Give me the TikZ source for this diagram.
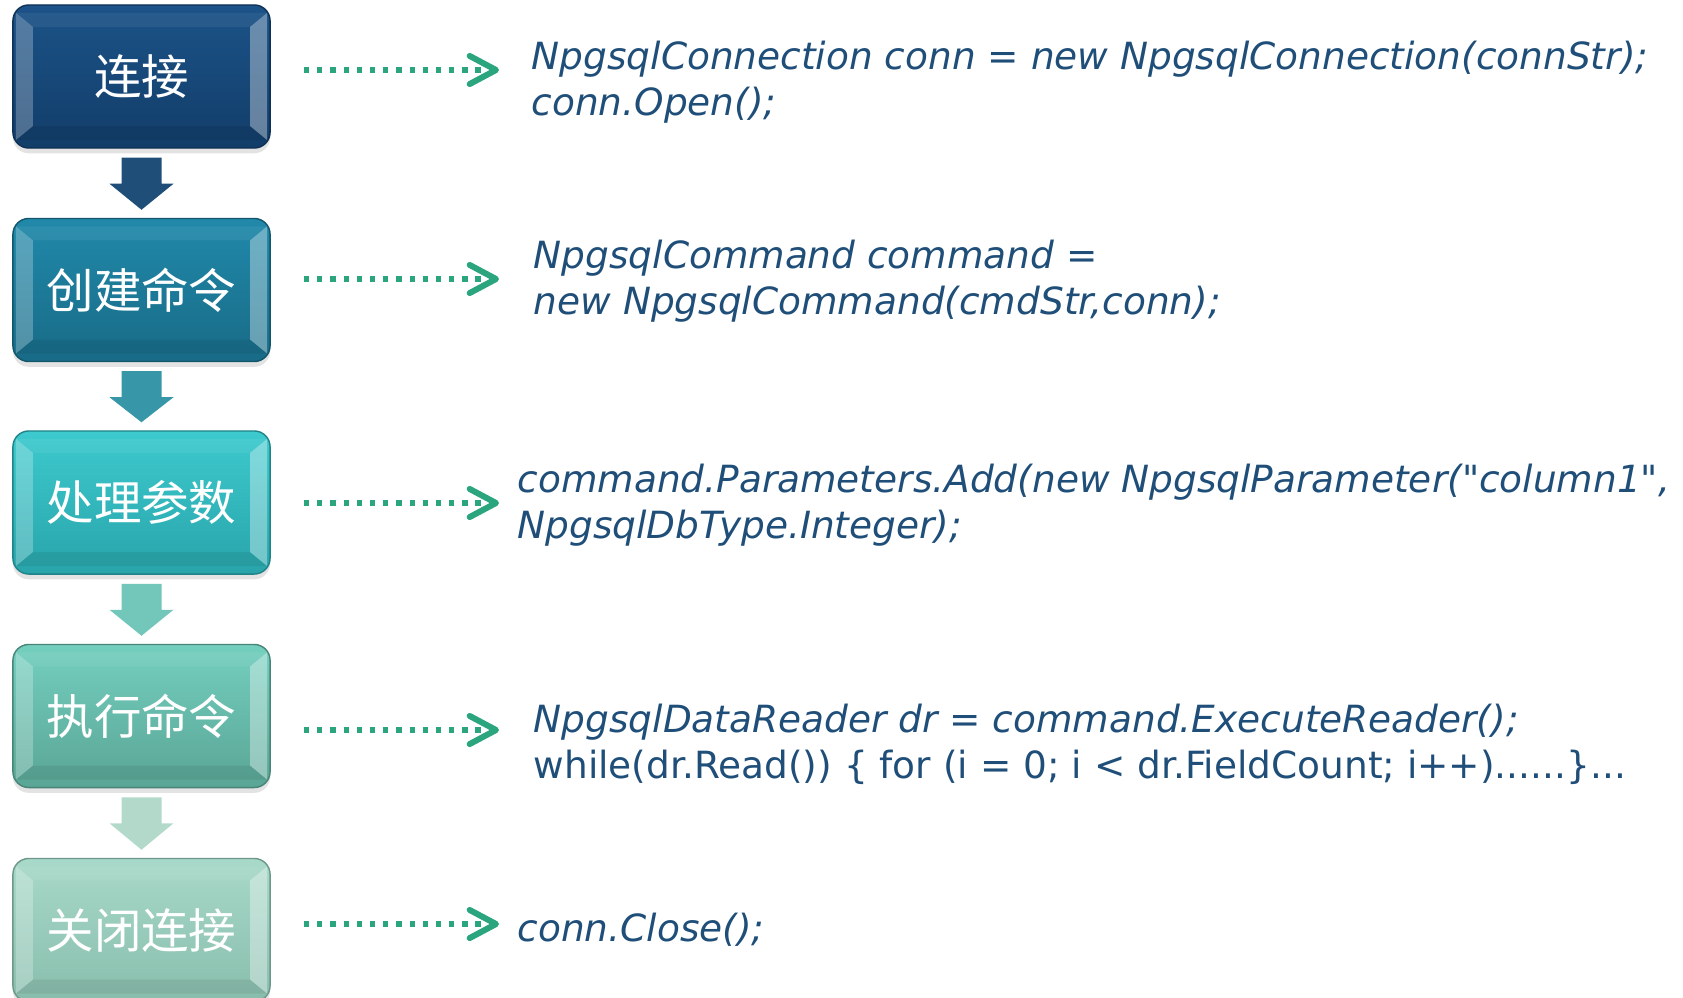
\documentclass[tikz,border=0pt]{standalone}
\usepackage{fontspec}
\newfontfamily\codefont{DejaVu Sans}
\newfontfamily\cjkfont{Noto Sans CJK SC}
\usetikzlibrary{calc,shadows,arrows.meta}

\definecolor{codeblue}{HTML}{1F4E79}
\definecolor{dotgreen}{HTML}{2BA57E}
\definecolor{navytop}{HTML}{1C5388}  \definecolor{navybot}{HTML}{123D69}
\definecolor{tealtop}{HTML}{2189AA}  \definecolor{tealbot}{HTML}{186B87}
\definecolor{cyantop}{HTML}{3DCACE}  \definecolor{cyanbot}{HTML}{28A4AA}
\definecolor{minttop}{HTML}{74CFBF}  \definecolor{mintbot}{HTML}{5AA595}
\definecolor{sagetop}{HTML}{A8D9C9}  \definecolor{sagebot}{HTML}{88BDAC}
\definecolor{arrowone}{HTML}{1F4E79}
\definecolor{arrowtwo}{HTML}{3797A8}
\definecolor{arrowthree}{HTML}{73C6BA}
\definecolor{arrowfour}{HTML}{B3D9CA}

\tikzset{
  stepbox/.style 2 args={rounded corners=4.5pt, minimum width=2.57cm, minimum height=1.43cm,
    inner sep=0pt, top color=#1, bottom color=#2, draw=#2!80!black, line width=.4pt,
    drop shadow={shadow xshift=0pt, shadow yshift=-1.5pt, opacity=.22},
    font=\cjkfont\fontsize{13.5}{15}\selectfont, text=white,
    path picture={
      \begin{scope}[sharp corners]
      \fill[white, opacity=.25]
        ($(path picture bounding box.north west)+(3,8)$) --
        ($(path picture bounding box.north west)+(20,22)$) --
        ($(path picture bounding box.south west)+(20,-22)$) --
        ($(path picture bounding box.south west)+(3,-8)$) -- cycle;
      \fill[white, opacity=.35]
        ($(path picture bounding box.north east)+(-3,8)$) --
        ($(path picture bounding box.north east)+(-20,22)$) --
        ($(path picture bounding box.south east)+(-20,-22)$) --
        ($(path picture bounding box.south east)+(-3,-8)$) -- cycle;
      \fill[white, opacity=.06]
        ($(path picture bounding box.north west)+(3,8)$) --
        ($(path picture bounding box.north east)+(-3,8)$) --
        ($(path picture bounding box.north east)+(-20,22)$) --
        ($(path picture bounding box.north west)+(20,22)$) -- cycle;
      \fill[black, opacity=.07]
        ($(path picture bounding box.south west)+(20,-22)$) --
        ($(path picture bounding box.south east)+(-20,-22)$) --
        ($(path picture bounding box.south east)+(-3,-8)$) --
        ($(path picture bounding box.south west)+(3,-8)$) -- cycle;
      \end{scope}
    }},
  code/.style={anchor=west, align=left, inner sep=0pt, text=codeblue,
    font=\codefont\itshape\fontsize{10.65}{13}\selectfont},
  dotarrow/.style={dotgreen, line width=1.5pt, dash pattern=on 1.5pt off 2.25pt,
    -{Straight Barb[length=7.5pt, width=8pt, line width=1.7pt, round]}}
}

% block arrow from the bottom of one box to the top of the next
\newcommand{\flowarrow}[3]{%
  \fill[#3] ($(#1.south)+(-20,9)$) -- ($(#1.south)+(20,9)$) --
    ($(#1.south)+(20,35)$) -- ($(#1.south)+(32,35)$) --
    ($(#2.north)+(0,-8)$) --
    ($(#1.south)+(-32,35)$) -- ($(#1.south)+(-20,35)$) -- cycle;}

\begin{document}
\begin{tikzpicture}[x=0.01cm, y=-0.01cm]
    \useasboundingbox (0,0) rectangle (1683,997);
    \clip (0,0) rectangle (1683,997);

    % steps
    \node[stepbox={navytop}{navybot}] (connect) at (141.5,76.5) {连接};
    \node[stepbox={tealtop}{tealbot}] (create)  at (141.5,290)  {创建命令};
    \node[stepbox={cyantop}{cyanbot}] (params)  at (141.5,502.5) {处理参数};
    \node[stepbox={minttop}{mintbot}] (execute) at (141.5,716)  {执行命令};
    \node[stepbox={sagetop}{sagebot}] (close)   at (141.5,930)  {关闭连接};

    \flowarrow{connect}{create}{arrowone}
    \flowarrow{create}{params}{arrowtwo}
    \flowarrow{params}{execute}{arrowthree}
    \flowarrow{execute}{close}{arrowfour}

    % code
    \node[code] (conncode) at (531,82)
        {NpgsqlConnection conn = new NpgsqlConnection(connStr);\\conn.Open();};
    \node[code] (cmdcode) at (533,281)
        {NpgsqlCommand command =\\new NpgsqlCommand(cmdStr,conn);};
    \node[code] (parcode) at (517,505)
        {command.Parameters.Add(new NpgsqlParameter("column1",\\NpgsqlDbType.Integer);};
    \node[code] (execcode) at (533,744)
        {NpgsqlDataReader dr = command.ExecuteReader();\\
         \upshape while(dr.Read()) \{ for (i = 0; i < dr.FieldCount; i++)......\}...};
    \node[code] (closecode) at (517,930) {conn.Close();};

    \coordinate (s1) at (304,70);  \coordinate (e1) at (499,70);
    \coordinate (s2) at (304,279); \coordinate (e2) at (499,279);
    \coordinate (s3) at (304,503); \coordinate (e3) at (499,503);
    \coordinate (s4) at (304,730); \coordinate (e4) at (499,730);
    \coordinate (s5) at (304,924); \coordinate (e5) at (499,924);
    \foreach \i in {1,...,5}
        \draw[dotarrow] (s\i) -- (e\i);
\end{tikzpicture}
\end{document}
